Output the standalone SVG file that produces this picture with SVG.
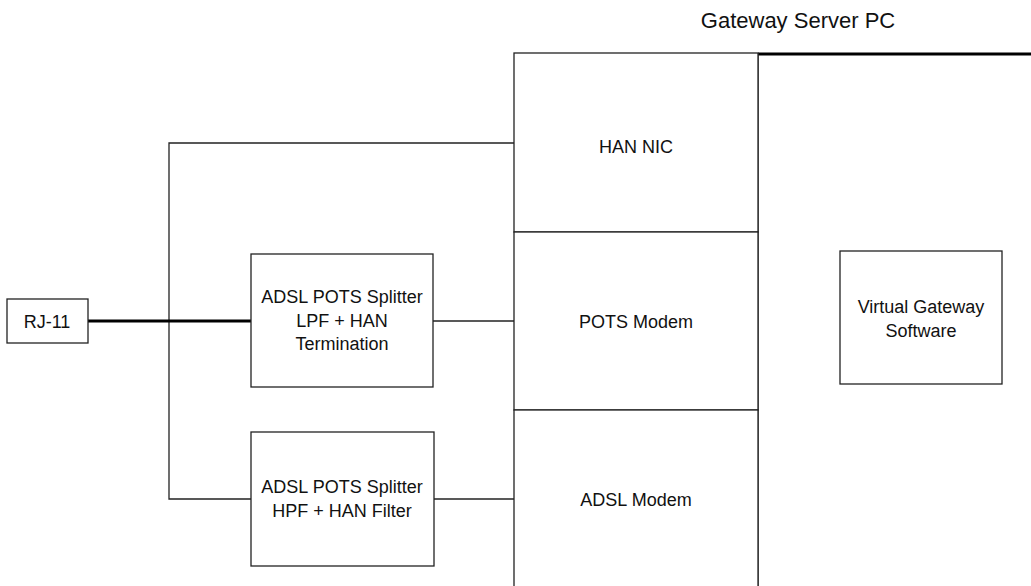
<svg xmlns="http://www.w3.org/2000/svg" width="1031" height="586" viewBox="0 0 1031 586">
<style>
.box{fill:#fff;stroke:#222;stroke-width:1.3}
.ln{fill:none;stroke:#222;stroke-width:1.3}
.thick{fill:none;stroke:#000;stroke-width:3}
text{font-family:"Liberation Sans",Arial,sans-serif;font-size:18px;fill:#111;text-anchor:middle}
</style>
<rect width="1031" height="586" fill="#fff"/>
<g id="connectors">
<polyline class="ln" points="514,143 169,143 169,499 251,499"/>
<line class="thick" x1="88" y1="321" x2="251" y2="321" stroke-width="2.6"/>
<line class="ln" x1="433" y1="321" x2="514" y2="321"/>
<line class="ln" x1="434" y1="499" x2="514" y2="499"/>
</g>
<g id="gateway">
<text x="798" y="28" style="font-size:22px">Gateway Server PC</text>
<line class="thick" x1="758" y1="54" x2="1031" y2="54"/>
<line class="ln" x1="758" y1="53" x2="758" y2="586"/>
</g>
<g id="han-nic">
<rect class="box" x="514" y="53" width="244" height="179" stroke-width="2"/>
<text x="636" y="153">HAN NIC</text>
</g>
<g id="pots-modem">
<rect class="box" x="514" y="232" width="244" height="178" stroke-width="2"/>
<text x="636" y="328">POTS Modem</text>
</g>
<g id="adsl-modem">
<rect class="box" x="514" y="410" width="244" height="190" stroke-width="2"/>
<text x="636" y="506">ADSL Modem</text>
</g>
<g id="rj11">
<rect class="box" x="7" y="299" width="81" height="44"/>
<text x="47" y="328">RJ-11</text>
</g>
<g id="splitter-lpf">
<rect class="box" x="251" y="254" width="182" height="133"/>
<text x="342" y="303">ADSL POTS Splitter</text>
<text x="342" y="327">LPF + HAN</text>
<text x="342" y="350">Termination</text>
</g>
<g id="splitter-hpf">
<rect class="box" x="251" y="432" width="183" height="134"/>
<text x="342" y="493">ADSL POTS Splitter</text>
<text x="342" y="517">HPF + HAN Filter</text>
</g>
<g id="virtual-gateway">
<rect class="box" x="840" y="251" width="162" height="133"/>
<text x="921" y="313">Virtual Gateway</text>
<text x="921" y="337">Software</text>
</g>
</svg>
